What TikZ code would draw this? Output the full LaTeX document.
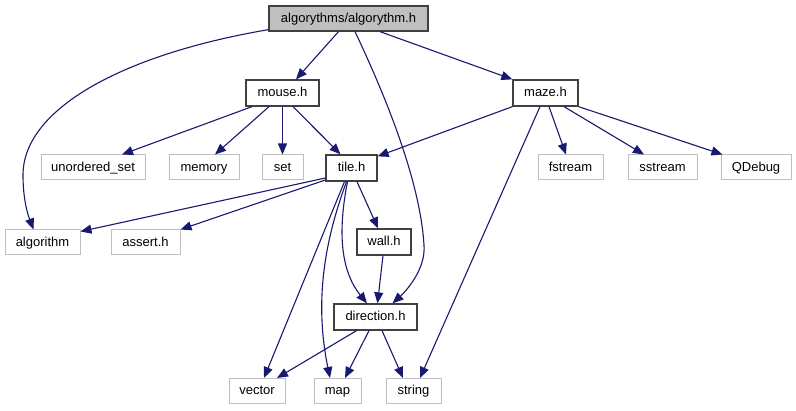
\documentclass[tikz,border=0pt]{standalone}
\usepackage{fontspec}
\setmainfont{Liberation Sans}
\usetikzlibrary{arrows.meta}
\definecolor{edgeblue}{HTML}{191970}
\definecolor{boxgray}{HTML}{BFBFBF}
\definecolor{boxdark}{HTML}{404040}
\begin{document}
\begin{tikzpicture}[x=1pt,y=-1pt,
  base/.style={rectangle, inner sep=0pt, font=\fontsize{13}{14}\selectfont, text=black,
    text height=10.5pt, text depth=2.5pt, minimum height=25pt},
  hdr/.style={base, draw=boxdark, line width=1.3pt, minimum height=26pt},
  sys/.style={base, draw=boxgray, line width=1pt},
  cur/.style={hdr, fill=boxgray, minimum height=25pt},
  dep/.style={draw=edgeblue, line width=1.1pt, -{Triangle[length=11pt,width=9pt]}}
]
\useasboundingbox (0,0) rectangle (796,411);
\fill[white] (0,0) rectangle (796,411);

\node[cur, minimum width=159pt] (top) at (348.5,18.5) {algorythms/algorythm.h};
\node[hdr, minimum width=73pt] (mouse) at (282.5,93) {mouse.h};
\node[hdr, minimum width=65pt] (maze) at (545.5,93) {maze.h};
\node[sys, minimum width=104pt] (uset) at (93,167.5) {unordered\_set};
\node[sys, minimum width=70pt] (memory) at (204,167.5) {memory};
\node[sys, minimum width=41pt] (set) at (282.5,167.5) {set};
\node[hdr, minimum width=51pt] (tile) at (351.5,168) {tile.h};
\node[sys, minimum width=65pt] (fstream) at (570.5,167.5) {fstream};
\node[sys, minimum width=69pt] (sstream) at (662.5,167.5) {sstream};
\node[sys, minimum width=70pt] (qdebug) at (756,167.5) {QDebug};
\node[sys, minimum width=75pt] (algorithm) at (42.5,242.5) {algorithm};
\node[sys, minimum width=69pt] (assert) at (145.5,242.5) {assert.h};
\node[hdr, minimum width=54pt] (wall) at (384,242) {wall.h};
\node[hdr, minimum width=83pt] (direction) at (375.5,317) {direction.h};
\node[sys, minimum width=56pt] (vector) at (257,391) {vector};
\node[sys, minimum width=47pt] (map) at (337.5,391) {map};
\node[sys, minimum width=55pt] (string) at (413.5,391) {string};

% from algorythm.h
\draw[dep] ([xshift=-10]top.south) -- ([xshift=13.5]mouse.north);
\draw[dep] ([xshift=31.5]top.south) -- (maze.north west);
\draw[dep] ([yshift=2]top.south west) .. controls (120,55) and (23,110) .. (23,175)
  .. controls (23,200) and (28,215) .. ([xshift=-9]algorithm.north);
\draw[dep] ([xshift=6.5]top.south) .. controls (385,95) and (420,180) .. (424,245)
  .. controls (426,270) and (405,292) .. ([xshift=17]direction.north);

% from maze.h
\draw[dep] (maze.south west) -- ([yshift=-2]tile.north east);
\draw[dep] ([xshift=-5.5]maze.south) -- ([xshift=6.5]string.north);
\draw[dep] ([xshift=3.5]maze.south) -- ([xshift=-4.5]fstream.north);
\draw[dep] ([xshift=18.5]maze.south) -- ([xshift=-18.5]sstream.north);
\draw[dep] (maze.south east) -- ([xshift=2]qdebug.north west);

% from mouse.h
\draw[dep] ([xshift=-30.5]mouse.south) -- ([xshift=29]uset.north);
\draw[dep] ([xshift=-13.5]mouse.south) -- ([xshift=11]memory.north);
\draw[dep] (mouse.south) -- (set.north);
\draw[dep] ([xshift=10.5]mouse.south) -- ([xshift=-11]tile.north);

% from tile.h
\draw[dep] ([yshift=-10]tile.west) -- ([yshift=-2]algorithm.north east);
\draw[dep] ([yshift=-12]tile.west) -- (assert.north east);
\draw[dep] ([xshift=-7]tile.south) -- ([xshift=7]vector.north);
\draw[dep] ([xshift=-5]tile.south) .. controls (325,240) and (314,300) .. ([xshift=-7.5]map.north);
\draw[dep] ([xshift=-4]tile.south) .. controls (338,230) and (340,270) .. ([xshift=-8.5]direction.north);
\draw[dep] ([xshift=5.5]tile.south) -- ([xshift=-6]wall.north);

% from wall.h
\draw[dep] ([xshift=-1]wall.south) -- ([xshift=2]direction.north);

% from direction.h
\draw[dep] ([xshift=-19]direction.south) -- ([xshift=20]vector.north);
\draw[dep] ([xshift=-6.5]direction.south) -- ([xshift=7.5]map.north);
\draw[dep] ([xshift=6.5]direction.south) -- ([xshift=-10.5]string.north);
\end{tikzpicture}
\end{document}
